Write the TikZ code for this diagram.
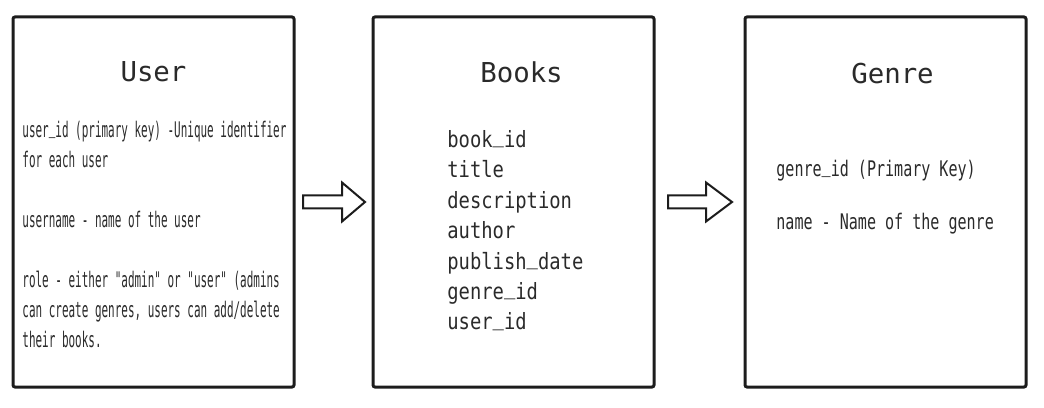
\documentclass[tikz,border=0pt]{standalone}
\usepackage{fontspec}
\usepackage{tikz}
\usetikzlibrary{positioning, calc}
\newfontfamily\headfont{DejaVu Sans Mono}
\newfontfamily\userfont[FakeStretch=0.51]{DejaVu Sans Mono}
\newfontfamily\bookfont[FakeStretch=0.84]{DejaVu Sans Mono}
\newfontfamily\genrefont[FakeStretch=0.70]{DejaVu Sans Mono}
\definecolor{inkDark}{HTML}{1C1C1C}
\definecolor{inkText}{HTML}{2A2A2A}
\newcommand\usc{\raisebox{0.2em}{\_}}

\begin{document}
\begin{tikzpicture}[node distance=39.5pt, every node/.style={align=left}]
    \tikzset{tablebox/.style={draw=inkDark,line width=1.5pt,rounded corners=1pt,outer sep=0pt,minimum width=140.5pt,minimum height=185pt},
      tabletitle/.style={font=\headfont\fontsize{13.7}{16}\selectfont,text=inkText},
      fieldlist/.style={anchor=north west,inner sep=0pt,text=inkText},
      hollowarrow/.style={draw=inkDark,line width=1pt,fill=white,line join=miter}}
    \useasboundingbox (0,0) rectangle (522pt,203.5pt);
    \node[tablebox] (user) at (76.75pt,102.5pt) {};
    \node[tablebox,right=of user] (books) {};
    \node[tablebox,right=45.5pt of books] (genre) {};
    \node[tabletitle] (usertitle) at ($(user.north)+(0,-27.5pt)$) {User};
    \node[tabletitle] (bookstitle) at ($(books.north)+(4pt,-27.5pt)$) {Books};
    \node[tabletitle] (genretitle) at ($(genre.north)+(3.5pt,-28.5pt)$) {Genre};
    \node[fieldlist,font=\userfont\fontsize{10.75}{15}\selectfont] (userfields) at ($(user.north west)+(4.5pt,-52pt)$)
      {user\usc id (primary key) -Unique identifier\\for each user\\[15pt]username - name of the user\\[15pt]role - either "admin" or "user" (admins\\can create genres, users can add/delete\\their books.};
    \node[fieldlist,font=\bookfont\fontsize{11.2}{15.2}\selectfont] (bookfields) at ($(books.north west)+(37pt,-56.5pt)$)
      {book\usc id\\title\\description\\author\\publish\usc date\\genre\usc id\\user\usc id};
    \node[fieldlist,font=\genrefont\fontsize{10.75}{15}\selectfont] (genrefields) at ($(genre.north west)+(15.5pt,-71.3pt)$)
      {genre\usc id (Primary Key)\\[11.5pt]name - Name of the genre};
    \draw[hollowarrow] let \p1=($(user.east)+(4.5pt,0)$), \p2=($(books.west)+(-4pt,0)$) in
      (\x1,\y1+3.25pt) -- (\x2-11.5pt,\y1+3.25pt) -- (\x2-11.5pt,\y1+9.75pt) -- (\x2,\y1)
      -- (\x2-11.5pt,\y1-9.75pt) -- (\x2-11.5pt,\y1-3.25pt) -- (\x1,\y1-3.25pt) -- cycle;
    \draw[hollowarrow] let \p1=($(books.east)+(7pt,0)$), \p2=($(genre.west)+(-6.5pt,0)$) in
      (\x1,\y1+3.25pt) -- (\x2-13pt,\y1+3.25pt) -- (\x2-13pt,\y1+9.75pt) -- (\x2,\y1)
      -- (\x2-13pt,\y1-9.75pt) -- (\x2-13pt,\y1-3.25pt) -- (\x1,\y1-3.25pt) -- cycle;
  \end{tikzpicture}
\end{document}
